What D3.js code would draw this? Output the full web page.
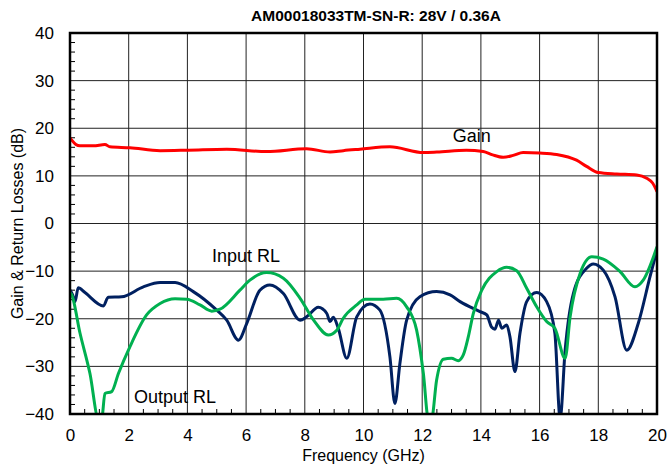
<!DOCTYPE html>
<html>
<head>
<meta charset="utf-8">
<script src="https://cdn.jsdelivr.net/npm/d3@7"></script>
<style>
  body { margin: 0; background: #fff; }
  svg { display: block; font-family: "Liberation Sans", Arial, sans-serif; }
</style>
</head>
<body>
<div id="chart"></div>
<script>
// Frequency (GHz) / dB pairs
const gainFreq = [0, 0.06, 0.2, 0.34, 0.8, 1.19, 1.36, 2.04, 3.07, 4.02, 5.34, 6.7, 8.06, 8.86, 9.31, 9.88, 10.9, 12.04, 12.5, 13.5, 14.08, 14.4, 14.76, 15.1, 15.44, 16.0, 16.58, 17.26, 17.6, 18.0, 18.63, 19.31, 19.65, 19.85, 20];
const gainDb   = [18.0, 17.5, 16.6, 16.3, 16.3, 16.6, 16.1, 15.9, 15.3, 15.4, 15.6, 15.1, 15.7, 15.0, 15.3, 15.6, 16.1, 14.9, 15.0, 15.4, 15.1, 14.4, 13.9, 14.3, 14.9, 14.8, 14.5, 13.3, 12.0, 10.7, 10.4, 10.2, 9.5, 8.5, 6.7];

const inputFreq = [0, 0.09, 0.17, 0.28, 0.51, 1.14, 1.3, 1.76, 2.5, 3.07, 3.58, 4.2, 5.0, 5.34, 5.74, 6.02, 6.47, 6.81, 7.27, 7.84, 8.06, 8.46, 8.75, 8.86, 8.97, 9.14, 9.43, 9.77, 10.22, 10.56, 10.9, 11.07, 11.24, 11.47, 11.92, 12.49, 12.95, 13.29, 13.97, 14.2, 14.37, 14.48, 14.6, 14.71, 14.88, 14.99, 15.16, 15.33, 15.56, 15.9, 16.24, 16.52, 16.7, 16.87, 17.15, 17.6, 17.83, 18.17, 18.57, 18.97, 19.36, 19.76, 20];
const inputDb   = [-14.0, -15.0, -16.4, -13.5, -14.5, -17.3, -15.5, -15.4, -13.3, -12.4, -12.4, -14.3, -18.2, -20.3, -24.5, -21.0, -14.0, -12.9, -14.7, -20.3, -19.6, -17.6, -18.9, -20.6, -19.7, -22.0, -28.3, -19.6, -16.9, -18.2, -28.0, -37.8, -29.4, -20.3, -15.4, -14.3, -15.0, -16.4, -18.5, -19.2, -21.8, -22.2, -20.3, -22.0, -21.3, -23.8, -31.1, -23.1, -16.4, -14.5, -16.4, -23.0, -41.0, -26.6, -14.7, -9.4, -8.5, -9.8, -15.4, -26.6, -21.0, -11.2, -5.6];

const outputFreq = [0, 0.06, 0.34, 0.68, 0.97, 1.08, 1.19, 1.42, 1.65, 2.04, 2.61, 3.07, 3.58, 3.98, 4.43, 4.83, 5.11, 5.79, 6.13, 6.7, 7.27, 7.84, 8.3, 8.8, 9.09, 9.31, 9.77, 10.05, 10.67, 11.13, 11.47, 11.81, 12.04, 12.21, 12.32, 12.49, 12.72, 13.0, 13.23, 13.4, 13.57, 13.74, 14.03, 14.54, 14.88, 15.22, 15.56, 15.9, 16.24, 16.52, 16.87, 17.04, 17.38, 17.78, 18.17, 18.74, 19.25, 19.53, 20];
const outputDb   = [-14.5, -15.0, -23.0, -31.5, -41.0, -41.0, -35.7, -35.3, -31.5, -25.9, -19.2, -16.8, -15.8, -15.9, -17.1, -18.4, -18.0, -14.0, -11.9, -10.3, -11.5, -15.7, -20.3, -23.4, -22.4, -19.9, -17.1, -15.9, -15.9, -15.7, -17.5, -22.4, -31.5, -41.0, -41.0, -32.9, -28.5, -28.3, -28.8, -27.6, -23.8, -18.9, -14.0, -10.1, -9.2, -9.9, -13.6, -17.5, -20.6, -22.0, -28.3, -19.6, -10.5, -7.0, -7.5, -10.1, -13.3, -11.9, -4.9];

const xTicks = [0, 2, 4, 6, 8, 10, 12, 14, 16, 18, 20];
const yTicks = [-40, -30, -20, -10, 0, 10, 20, 30, 40];

const W = 668, H = 467;
const margin = { top: 33, right: 11, bottom: 53, left: 70 };
const width = W - margin.left - margin.right;
const height = H - margin.top - margin.bottom;

const svg = d3.select("#chart").append("svg")
  .attr("width", W)
  .attr("height", H);

const g = svg.append("g")
  .attr("transform", `translate(${margin.left},${margin.top})`);

const x = d3.scaleLinear().domain([0, 20]).range([0, width]);
const y = d3.scaleLinear().domain([-40, 40]).range([height, 0]);

// grid
g.append("g").selectAll("line.vg")
  .data(xTicks.slice(1, -1))
  .enter().append("line")
  .attr("x1", d => x(d)).attr("x2", d => x(d))
  .attr("y1", 0).attr("y2", height)
  .attr("stroke", "#222").attr("stroke-width", 1);

g.append("g").selectAll("line.hg")
  .data(yTicks.slice(1, -1))
  .enter().append("line")
  .attr("x1", 0).attr("x2", width)
  .attr("y1", d => y(d)).attr("y2", d => y(d))
  .attr("stroke", "#222").attr("stroke-width", 1);

// minor ticks pointing inward
const xMinor = d3.range(0.5, 20, 0.5).filter(v => v % 2 !== 0);
g.append("g").selectAll("line")
  .data(xMinor)
  .enter().append("line")
  .attr("x1", d => x(d)).attr("x2", d => x(d))
  .attr("y1", height).attr("y2", height - 5)
  .attr("stroke", "#000").attr("stroke-width", 1);

const yMinor = d3.range(-38, 40, 2).filter(v => v % 10 !== 0);
g.append("g").selectAll("line")
  .data(yMinor)
  .enter().append("line")
  .attr("x1", 0).attr("x2", 5)
  .attr("y1", d => y(d)).attr("y2", d => y(d))
  .attr("stroke", "#000").attr("stroke-width", 1);

// axes labels (tick text only)
const xAxis = g.append("g")
  .attr("transform", `translate(0,${height})`)
  .call(d3.axisBottom(x).tickValues(xTicks).tickSize(0).tickPadding(15));
xAxis.select(".domain").remove();
xAxis.selectAll("text")
  .style("font-size", "17px")
  .style("font-family", "'Liberation Sans', Arial, sans-serif")
  .attr("fill", "#000");

const yAxis = g.append("g")
  .call(d3.axisLeft(y).tickValues(yTicks).tickSize(0).tickPadding(16));
yAxis.select(".domain").remove();
yAxis.selectAll("text")
  .style("font-size", "17px")
  .style("font-family", "'Liberation Sans', Arial, sans-serif")
  .attr("fill", "#000");

// clip
svg.append("defs").append("clipPath").attr("id", "plot-clip")
  .append("rect").attr("width", width).attr("height", height);

const line = d3.line()
  .x(d => x(d[0]))
  .y(d => y(d[1]))
  .curve(d3.curveMonotoneX);

const series = [
  { f: inputFreq, v: inputDb, color: "#002060" },
  { f: outputFreq, v: outputDb, color: "#00b050" },
  { f: gainFreq, v: gainDb, color: "#ff0000" }
];

const lines = g.append("g").attr("clip-path", "url(#plot-clip)");
series.forEach(s => {
  lines.append("path")
    .datum(d3.zip(s.f, s.v))
    .attr("d", line)
    .attr("fill", "none")
    .attr("stroke", s.color)
    .attr("stroke-width", 3)
    .attr("stroke-linejoin", "round");
});

// frame
g.append("rect")
  .attr("width", width).attr("height", height)
  .attr("fill", "none")
  .attr("stroke", "#000")
  .attr("stroke-width", 2.5);

// series labels
const lbl = [
  { t: "Gain", f: 13.69, v: 17.2 },
  { t: "Input RL", f: 6.0, v: -8.0 },
  { t: "Output RL", f: 3.58, v: -37.75 }
];
g.selectAll("text.lbl")
  .data(lbl)
  .enter().append("text")
  .attr("x", d => x(d.f))
  .attr("y", d => y(d.v))
  .attr("text-anchor", "middle")
  .style("font-size", "18px")
  .attr("fill", "#000")
  .text(d => d.t);

// title
svg.append("text")
  .attr("x", 376)
  .attr("y", 21)
  .attr("text-anchor", "middle")
  .style("font-size", "15.5px")
  .style("font-weight", "bold")
  .text("AM00018033TM-SN-R: 28V / 0.36A");

// axis titles
svg.append("text")
  .attr("x", margin.left + width / 2)
  .attr("y", 461)
  .attr("text-anchor", "middle")
  .style("font-size", "16px")
  .text("Frequency (GHz)");

svg.append("text")
  .attr("transform", `translate(23,${margin.top + height / 2}) rotate(-90)`)
  .attr("text-anchor", "middle")
  .style("font-size", "16px")
  .text("Gain & Return Losses (dB)");
</script>
</body>
</html>
